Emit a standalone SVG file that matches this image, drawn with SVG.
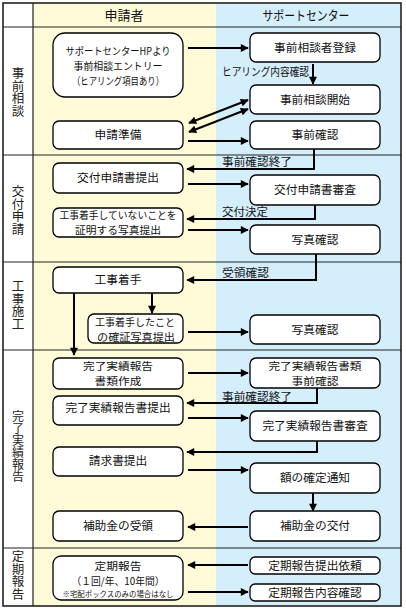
<svg xmlns="http://www.w3.org/2000/svg" width="406" height="612" viewBox="0 0 406 612">
<defs>
<marker id="ah" viewBox="0 0 10 10" refX="9" refY="5" markerUnits="userSpaceOnUse" markerWidth="9" markerHeight="8" orient="auto-start-reverse">
<path d="M0,0 L10,5 L0,10 Z" fill="#000"/>
</marker>
<style>
.bg-y{fill:#FFFBD8}
.bg-b{fill:#D5EEFB}
.grid{stroke:#222;stroke-width:1.2;fill:none}
.box{fill:#fff;stroke:#000;stroke-width:1.3}
.t{font-family:"Noto Sans CJK JP","Liberation Sans",sans-serif;font-size:11.7px;fill:#111;text-anchor:middle}
.m{font-size:10.3px}
.hd{font-family:"Noto Sans CJK JP","Liberation Sans",sans-serif;font-size:13px;fill:#111;text-anchor:middle}
.lb{font-family:"Noto Sans CJK JP","Liberation Sans",sans-serif;font-size:11px;fill:#111;text-anchor:start}
.vt{font-family:"Noto Sans CJK JP","Liberation Sans",sans-serif;font-size:12.5px;fill:#222;writing-mode:vertical-rl;text-anchor:start}
.sm{font-size:7.5px}
.c{stroke:#000;stroke-width:2;fill:none;marker-end:url(#ah)}
.c2{stroke:#000;stroke-width:2;fill:none;marker-end:url(#ah);marker-start:url(#ah)}
</style>
</defs>
<rect x="0" y="0" width="406" height="612" fill="#fff"/>
<g id="background">
<rect x="3" y="3" width="30" height="603" fill="#fff"/>
<rect class="bg-y" x="33" y="3" width="183" height="603"/>
<rect class="bg-b" x="216" y="3" width="185" height="603"/>
<path class="grid" d="M33,3 V606 M3,27 H401 M3,155 H401 M3,262 H401 M3,350 H401 M3,548 H401"/>
<rect x="3" y="3" width="398" height="603" fill="none" stroke="#222" stroke-width="1.6"/>
</g>
<g id="headers">
<text class="hd" x="124" y="20">申請者</text>
<text class="hd" x="306" y="20" textLength="87" lengthAdjust="spacingAndGlyphs">サポートセンター</text>
</g>
<g id="phases">
<text class="vt" x="18" y="67">事前相談</text>
<text class="vt" x="18" y="185">交付申請</text>
<text class="vt" x="18" y="280">工事施工</text>
<text class="vt" x="18" y="410" style="font-size:12px">完了実績報告</text>
<text class="vt" x="18" y="550">定期報告</text>
</g>
<g id="connectors">
<line class="c" x1="188" y1="48" x2="248" y2="48"/>
<line class="c" x1="313" y1="64" x2="313" y2="84"/>
<line class="c2" x1="189" y1="123" x2="248" y2="100"/>
<line class="c2" x1="189" y1="132" x2="248" y2="109"/>
<line class="c" x1="188" y1="141" x2="248" y2="141"/>
<path class="c" d="M314,149 V169 H187"/>
<line class="c" x1="188" y1="184" x2="248" y2="184"/>
<path class="c" d="M315,205 V219 H187"/>
<line class="c" x1="188" y1="230" x2="248" y2="230"/>
<path class="c" d="M316,254 V280 H187"/>
<line class="c" x1="152" y1="293" x2="152" y2="313"/>
<line class="c" x1="74" y1="293" x2="74" y2="355"/>
<line class="c" x1="188" y1="332" x2="248" y2="332"/>
<line class="c" x1="188" y1="373" x2="248" y2="373"/>
<path class="c" d="M317,388 V403 H187"/>
<line class="c" x1="188" y1="418" x2="248" y2="418"/>
<path class="c" d="M317,441 V452 H187"/>
<line class="c" x1="188" y1="470" x2="248" y2="470"/>
<line class="c" x1="313" y1="493" x2="313" y2="511"/>
<line class="c" x1="248" y1="527" x2="188" y2="527"/>
<line class="c" x1="248" y1="565" x2="188" y2="565"/>
<line class="c" x1="188" y1="592" x2="248" y2="592"/>
<text class="lb" x="222" y="76" textLength="87" lengthAdjust="spacingAndGlyphs">ヒアリング内容確認</text>
<text class="lb" x="222" y="166" textLength="70" lengthAdjust="spacingAndGlyphs">事前確認終了</text>
<text class="lb" x="222" y="216" textLength="46" lengthAdjust="spacingAndGlyphs">交付決定</text>
<text class="lb" x="222" y="277" textLength="47" lengthAdjust="spacingAndGlyphs">受領確認</text>
<text class="lb" x="222" y="401" textLength="70" lengthAdjust="spacingAndGlyphs">事前確認終了</text>
</g>
<g id="n1"><rect class="box" x="53" y="33" width="130" height="64" rx="12"/>
<text class="t m"><tspan x="118" y="54.5" textLength="105" lengthAdjust="spacingAndGlyphs">サポートセンターHPより</tspan><tspan x="118" y="69.5" textLength="89" lengthAdjust="spacingAndGlyphs">事前相談エントリー</tspan><tspan x="118" y="84.5" textLength="92" lengthAdjust="spacingAndGlyphs">（ヒアリング項目あり）</tspan></text></g>
<g id="n2"><rect class="box" x="250" y="33" width="130" height="29" rx="6"/><text class="t" x="315" y="52">事前相談者登録</text></g>
<g id="n3"><rect class="box" x="250" y="85" width="130" height="29" rx="6"/><text class="t" x="315" y="104">事前相談開始</text></g>
<g id="n4"><rect class="box" x="53" y="121" width="130" height="28" rx="6"/><text class="t" x="118" y="139">申請準備</text></g>
<g id="n5"><rect class="box" x="250" y="121" width="130" height="28" rx="6"/><text class="t" x="315" y="139">事前確認</text></g>
<g id="n6"><rect class="box" x="53" y="163" width="130" height="30" rx="6"/><text class="t" x="118" y="182">交付申請書提出</text></g>
<g id="n7"><rect class="box" x="250" y="175" width="130" height="30" rx="6"/><text class="t" x="315" y="194">交付申請書審査</text></g>
<g id="n8"><rect class="box" x="53" y="208" width="130" height="29" rx="6"/>
<text class="t m"><tspan x="118" y="219" textLength="117" lengthAdjust="spacingAndGlyphs">工事着手していないことを</tspan><tspan x="118" y="234" textLength="86" lengthAdjust="spacingAndGlyphs">証明する写真提出</tspan></text></g>
<g id="n9"><rect class="box" x="250" y="225" width="130" height="29" rx="6"/><text class="t" x="315" y="244">写真確認</text></g>
<g id="n10"><rect class="box" x="53" y="267" width="130" height="26" rx="6"/><text class="t" x="118" y="284">工事着手</text></g>
<g id="n11"><rect class="box" x="88" y="314" width="95" height="29" rx="6"/>
<text class="t m"><tspan x="135" y="325.5" textLength="80" lengthAdjust="spacingAndGlyphs">工事着手したこと</tspan><tspan x="136" y="340.5" textLength="78" lengthAdjust="spacingAndGlyphs">の確証写真提出</tspan></text></g>
<g id="n12"><rect class="box" x="250" y="315" width="130" height="29" rx="6"/><text class="t" x="315" y="334">写真確認</text></g>
<g id="n13"><rect class="box" x="53" y="358" width="130" height="31" rx="6"/>
<text class="t m"><tspan x="118" y="370" textLength="70" lengthAdjust="spacingAndGlyphs">完了実績報告</tspan><tspan x="118" y="385" textLength="47" lengthAdjust="spacingAndGlyphs">書類作成</tspan></text></g>
<g id="n14"><rect class="box" x="250" y="358" width="130" height="30" rx="6"/>
<text class="t m"><tspan x="315" y="370" textLength="93" lengthAdjust="spacingAndGlyphs">完了実績報告書類</tspan><tspan x="315" y="385" textLength="47" lengthAdjust="spacingAndGlyphs">事前確認</tspan></text></g>
<g id="n15"><rect class="box" x="53" y="396" width="130" height="29" rx="6"/><text class="t" x="118" y="412">完了実績報告書提出</text></g>
<g id="n16"><rect class="box" x="250" y="411" width="130" height="30" rx="6"/><text class="t" x="315" y="430">完了実績報告書審査</text></g>
<g id="n17"><rect class="box" x="53" y="447" width="130" height="29" rx="6"/><text class="t" x="118" y="465">請求書提出</text></g>
<g id="n18"><rect class="box" x="250" y="463" width="130" height="30" rx="6"/><text class="t" x="315" y="482">額の確定通知</text></g>
<g id="n19"><rect class="box" x="53" y="511" width="130" height="30" rx="6"/><text class="t" x="118" y="530">補助金の受領</text></g>
<g id="n20"><rect class="box" x="250" y="511" width="130" height="30" rx="6"/><text class="t" x="315" y="530">補助金の交付</text></g>
<g id="n21"><rect class="box" x="53" y="556" width="130" height="44" rx="8"/>
<text class="t m"><tspan x="118" y="570" textLength="47" lengthAdjust="spacingAndGlyphs">定期報告</tspan><tspan x="118" y="585" textLength="93" lengthAdjust="spacingAndGlyphs">（１回/年、10年間）</tspan><tspan class="sm" x="118" y="597" textLength="111" lengthAdjust="spacingAndGlyphs">※宅配ボックスのみの場合はなし</tspan></text></g>
<g id="n22"><rect class="box" x="250" y="557" width="130" height="17" rx="5"/><text class="t" x="315" y="570">定期報告提出依頼</text></g>
<g id="n23"><rect class="box" x="250" y="584" width="130" height="17" rx="5"/><text class="t" x="315" y="597">定期報告内容確認</text></g>
</svg>
